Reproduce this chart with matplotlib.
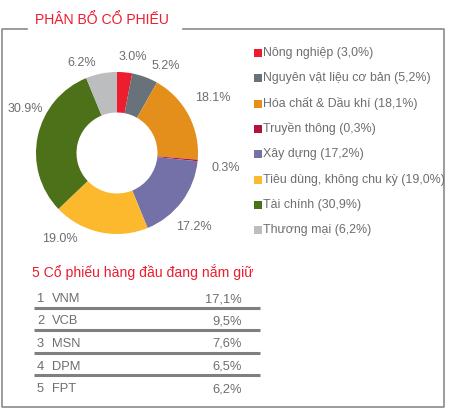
import matplotlib
matplotlib.use('Agg')
import matplotlib.pyplot as plt
import numpy as np

plt.rcParams['font.family'] = ['Liberation Sans', 'DejaVu Sans']

# sector allocation
sectors = ['Nông nghiệp', 'Nguyên vật liệu cơ bản', 'Hóa chất & Dầu khí', 'Truyền thông',
           'Xây dựng', 'Tiêu dùng, không chu kỳ', 'Tài chính', 'Thương mại']
weights = [3.0, 5.2, 18.1, 0.3, 17.2, 19.0, 30.9, 6.2]
colors = ['#ED1C2E', '#68727A', '#E48F1B', '#B3123F', '#7471A9', '#FDB92E', '#4D7119', '#BBBDBF']

# top 5 holdings
tickers = ['VNM', 'VCB', 'MSN', 'DPM', 'FPT']
holdings = [17.1, 9.5, 7.6, 6.5, 6.2]

W, H = 453, 413
txt_gray = '#6D6E71'
red = '#ED1C2E'

fig = plt.figure(figsize=(W / 100, H / 100), dpi=100)
ax = fig.add_axes([0, 0, 1, 1])
ax.set_xlim(0, W)
ax.set_ylim(H, 0)
ax.axis('off')

# frame with gap for title
fc = '#8A8A8A'
ax.plot([27, 2, 2, 444, 444, 183], [29, 29, 407, 407, 29, 29], color=fc, lw=1.2)
ax.text(35, 20, 'PHÂN BỔ CỔ PHIẾU', color=red, fontsize=10.1, va='center', ha='left')

# donut
cx, cy, r = 117, 153, 81
pax = fig.add_axes([(cx - r) / W, 1 - (cy + r) / H, 2 * r / W, 2 * r / H])
labels = ['%.1f%%' % w for w in weights]
wedges, texts = pax.pie(weights, colors=colors, startangle=90, counterclock=False,
                        labels=labels, labeldistance=1.2, radius=1,
                        wedgeprops=dict(width=0.5, linewidth=0),
                        textprops=dict(color=txt_gray, fontsize=9))
# label placement like the original (angle in degrees, distance in radii)
label_pos = [(80.5, 1.20), (60.6, 1.23), (30, 1.36), (-7.9, 1.35),
             (-43.9, 1.32), (-123.5, 1.27), (154.4, 1.26), (111.3, 1.19)]
for t, (a, d) in zip(texts, label_pos):
    t.set_position((d * np.cos(np.radians(a)), d * np.sin(np.radians(a))))
    t.set_ha('center')
    t.set_va('center')
    t.set_clip_on(False)
pax.set_xlim(-1, 1)
pax.set_ylim(-1, 1)
pax.set_aspect('equal')

# legend
for i, (s, w, c) in enumerate(zip(sectors, weights, colors)):
    y = 53 + i * 25.3
    ax.scatter([257.5], [y], marker='s', s=30, color=c, linewidths=0)
    ax.text(263, y, '%s (%s%%)' % (s, ('%.1f' % w).replace('.', ',')),
            color=txt_gray, fontsize=8.9, va='center', ha='left')

# top holdings table
ax.text(32, 272, '5 Cổ phiếu hàng đầu đang nắm giữ', color=red, fontsize=10.1,
        va='center', ha='left')
for i, (t, v) in enumerate(zip(tickers, holdings)):
    y = 299 + i * 22.5
    ax.text(37, y, str(i + 1), color=txt_gray, fontsize=9.3, va='center', ha='left')
    ax.text(52, y, t, color=txt_gray, fontsize=9.3, va='center', ha='left')
    ax.text(242, y, ('%.1f%%' % v).replace('.', ','), color=txt_gray, fontsize=9.3,
            va='center', ha='right')
    if i < len(tickers) - 1:
        ax.plot([34, 260], [y + 8.5, y + 8.5], color='#7F7F7F', lw=2.2, solid_capstyle='butt')

fig.savefig('out.png', dpi=100)
